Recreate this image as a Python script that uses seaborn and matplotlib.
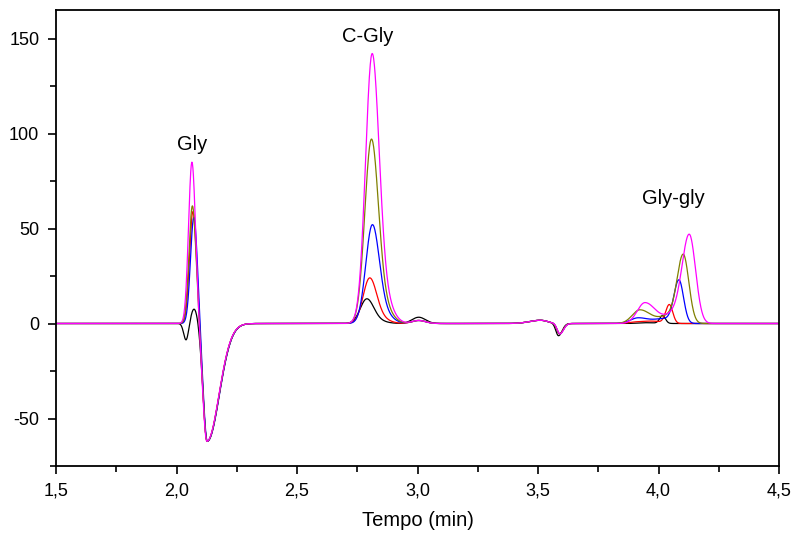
import numpy as np
import pandas as pd
import matplotlib
matplotlib.use("Agg")
import matplotlib.pyplot as plt
from matplotlib.ticker import MultipleLocator
import seaborn as sns

# Five chromatogram runs (black, red, blue, olive, magenta)
runs = ["r1", "r2", "r3", "r4", "r5"]
run_colors = ["#000000", "#ff0000", "#0000ff", "#808000", "#ff00ff"]

# Gly peak: retention time (min) and height
gly_time = [2.074, 2.068, 2.072, 2.066, 2.064]
gly_height = [8.0, 59.0, 56.0, 62.0, 85.0]

# small negative dip before Gly (only visible in the first run)
pre_dip_height = [-9.0, 0.0, 0.0, 0.0, 0.0]

# system (negative) peak after Gly
sys_time = [2.127, 2.127, 2.128, 2.127, 2.126]
sys_height = [-62.0, -62.0, -62.0, -62.0, -62.0]

# C-Gly peak
cgly_time = [2.789, 2.801, 2.812, 2.808, 2.811]
cgly_height = [13.0, 24.0, 52.0, 97.0, 142.0]

# small bump near 3.0 min
bump_height = [3.3, 1.6, 1.6, 1.6, 1.6]

# dip near 3.59 min
dip_time = [3.585, 3.589, 3.590, 3.590, 3.591]
dip_height = [-6.5, -5.5, -5.5, -5.5, -5.5]

# Gly-gly shoulder and main peak
gg_minor_time = [3.93, 3.91, 3.916, 3.923, 3.944]
gg_minor_height = [0.0, 0.8, 3.0, 7.2, 11.0]
gg_time = [4.017, 4.045, 4.085, 4.103, 4.128]
gg_height = [4.2, 10.0, 23.0, 36.5, 47.0]
gg_width = [0.012, 0.015, 0.021, 0.026, 0.030]

x_ticks = [1.5, 2.0, 2.5, 3.0, 3.5, 4.0, 4.5]
x_tick_labels = ["1,5", "2,0", "2,5", "3,0", "3,5", "4,0", "4,5"]
y_ticks = [-50, 0, 50, 100, 150]
y_tick_labels = ["-50", "0", "50", "100", "150"]

peak_names = ["Gly", "C-Gly", "Gly-gly"]
peak_label_pos = [(2.064, 94.0), (2.795, 151.0), (4.06, 66.0)]


def gauss(d, s):
    return np.exp(-0.5 * (d / s) ** 2)


def peak(t, center, height, s_left, s_right=None):
    s_right = s_left if s_right is None else s_right
    s = np.where(t < center, s_left, s_right)
    return height * gauss(t - center, s)


def tailed_peak(t, center, height, s_left, s_right, offset, frac, s_extra):
    # main peak plus a shifted shoulder; summit scaled back to `height`
    scale = 1.0 + frac * gauss(offset, s_extra)
    amp = height / scale
    return (peak(t, center, amp, s_left, s_right)
            + peak(t, center + offset, frac * amp, s_extra))


t = np.linspace(1.5, 4.5, 3001)
frames = []
for i, run in enumerate(runs):
    y = np.zeros_like(t)
    y += peak(t, 2.040, pre_dip_height[i], 0.010)
    y += peak(t, gly_time[i], gly_height[i], 0.014, 0.015)
    y += peak(t, sys_time[i], sys_height[i], 0.017, 0.05)
    y += tailed_peak(t, cgly_time[i], cgly_height[i], 0.027, 0.029,
                     0.05, 0.09, 0.035)
    y += peak(t, 3.005, bump_height[i], 0.028)
    y += peak(t, 3.51, 1.7, 0.045, 0.03)
    y += peak(t, dip_time[i], dip_height[i], 0.011, 0.015)
    y += peak(t, gg_minor_time[i], gg_minor_height[i], 0.032, 0.045)
    y += tailed_peak(t, gg_time[i], gg_height[i], gg_width[i],
                     0.8 * gg_width[i] + 0.002, -0.065, 0.1, 0.035)
    frames.append(pd.DataFrame({"t": t, "signal": y, "run": run}))
df = pd.concat(frames, ignore_index=True)

sns.set_style("ticks")
plt.rcParams["font.family"] = ["Liberation Sans", "DejaVu Sans"]
plt.rcParams["text.color"] = "black"
plt.rcParams["axes.labelcolor"] = "black"
plt.rcParams["xtick.color"] = "black"
plt.rcParams["ytick.color"] = "black"

fig = plt.figure(figsize=(7.93, 5.35), dpi=100)
ax = fig.add_axes([56 / 793, 1 - 466 / 535, (779 - 56) / 793, (466 - 10) / 535])

sns.lineplot(data=df, x="t", y="signal", hue="run", hue_order=runs,
             palette=run_colors, legend=False, linewidth=0.9,
             estimator=None, sort=False, ax=ax)

ax.set_xlim(1.5, 4.5)
ax.set_ylim(-75, 165)
ax.set_xticks(x_ticks)
ax.set_xticklabels(x_tick_labels)
ax.set_yticks(y_ticks)
ax.set_yticklabels(y_tick_labels)
ax.xaxis.set_minor_locator(MultipleLocator(0.25))
ax.yaxis.set_minor_locator(MultipleLocator(25))
ax.tick_params(axis="both", which="major", direction="out", length=6,
               width=1.2, labelsize=13, colors="black", pad=6)
ax.tick_params(axis="both", which="minor", direction="out", length=4,
               width=1.2, colors="black")
ax.tick_params(top=False, right=False, which="both")

for side in ["left", "right", "top", "bottom"]:
    ax.spines[side].set_visible(True)
    ax.spines[side].set_linewidth(1.3)
    ax.spines[side].set_color("black")

ax.set_xlabel("Tempo (min)", fontsize=14.5, labelpad=8, color="black")
ax.set_ylabel("")

for name, (px, py) in zip(peak_names, peak_label_pos):
    ax.text(px, py, name, fontsize=14.5, ha="center", va="center", color="black")

fig.savefig("out.png", dpi=100)
